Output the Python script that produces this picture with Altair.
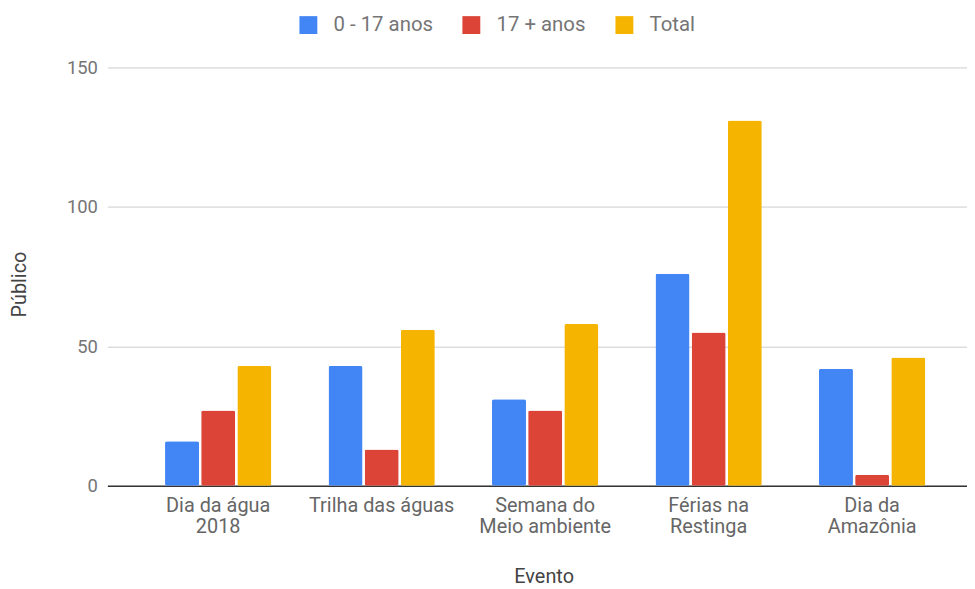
import altair as alt
import pandas as pd

categories = ["Dia da água|2018", "Trilha das águas", "Semana do|Meio ambiente", "Férias na|Restinga", "Dia da|Amazônia"]
series = ["0 - 17 anos", "17 + anos", "Total"]
v_young = [16, 43, 31, 76, 42]
v_adult = [27, 13, 27, 55, 4]
v_total = [43, 56, 58, 131, 46]
colors = ["#4285F4", "#DB4437", "#F4B400"]
y_ticks = [0, 50, 100, 150]

rows = []
for i, c in enumerate(categories):
    for s, vals in zip(series, [v_young, v_adult, v_total]):
        rows.append({"Evento": c, "Série": s, "Público": vals[i]})
df = pd.DataFrame(rows)

W, H = 865, 421
FONT = "Roboto"

chart = alt.Chart(df).mark_bar(cornerRadius=2).encode(
    x=alt.X("Evento:N", sort=categories,
            scale=alt.Scale(paddingInner=0.35, paddingOuter=0.304, align=0.58),
            axis=alt.Axis(title="Evento", labelAngle=0, labelExpr="split(datum.label, '|')",
                          labelFontSize=20, labelColor="#666666", labelFont=FONT,
                          labelPadding=10, labelLineHeight=21, labelBaseline="top",
                          ticks=False, domainColor="#333333", domainWidth=1.5,
                          titleFontSize=20, titleFontWeight="normal", titleColor="#444444",
                          titleFont=FONT, titleX=439, titleY=91, titleBaseline="middle")),
    xOffset=alt.XOffset("Série:N", sort=series, scale=alt.Scale(paddingInner=0.06)),
    y=alt.Y("Público:Q", scale=alt.Scale(domain=[0, 150], nice=False),
            axis=alt.Axis(values=y_ticks, title="Público", ticks=False, domain=False,
                          gridColor="#cccccc", labelFontSize=18.5, labelColor="#757575",
                          labelFont=FONT, labelPadding=10,
                          titleFontSize=20, titleFontWeight="normal", titleColor="#444444",
                          titleFont=FONT, titleX=-88, titleY=218, titleAngle=-90,
                          titleBaseline="middle", titleAlign="center")),
    color=alt.Color("Série:N", sort=series,
                    scale=alt.Scale(domain=series, range=colors),
                    legend=alt.Legend(title=None, orient="none", direction="horizontal",
                                      legendX=192, legendY=-53, symbolType="square",
                                      symbolSize=324, symbolStrokeWidth=0, symbolOpacity=1,
                                      labelFontSize=20.5, labelColor="#757575", labelFont=FONT,
                                      labelOffset=15, columnPadding=28)),
).properties(
    width=W, height=H,
    autosize=alt.AutoSizeParams(type="none"),
    padding={"left": 100, "top": 58, "right": 0, "bottom": 102},
).configure_view(stroke=None)

chart.save("out.html", embed_options={"renderer": "svg", "actions": False})
